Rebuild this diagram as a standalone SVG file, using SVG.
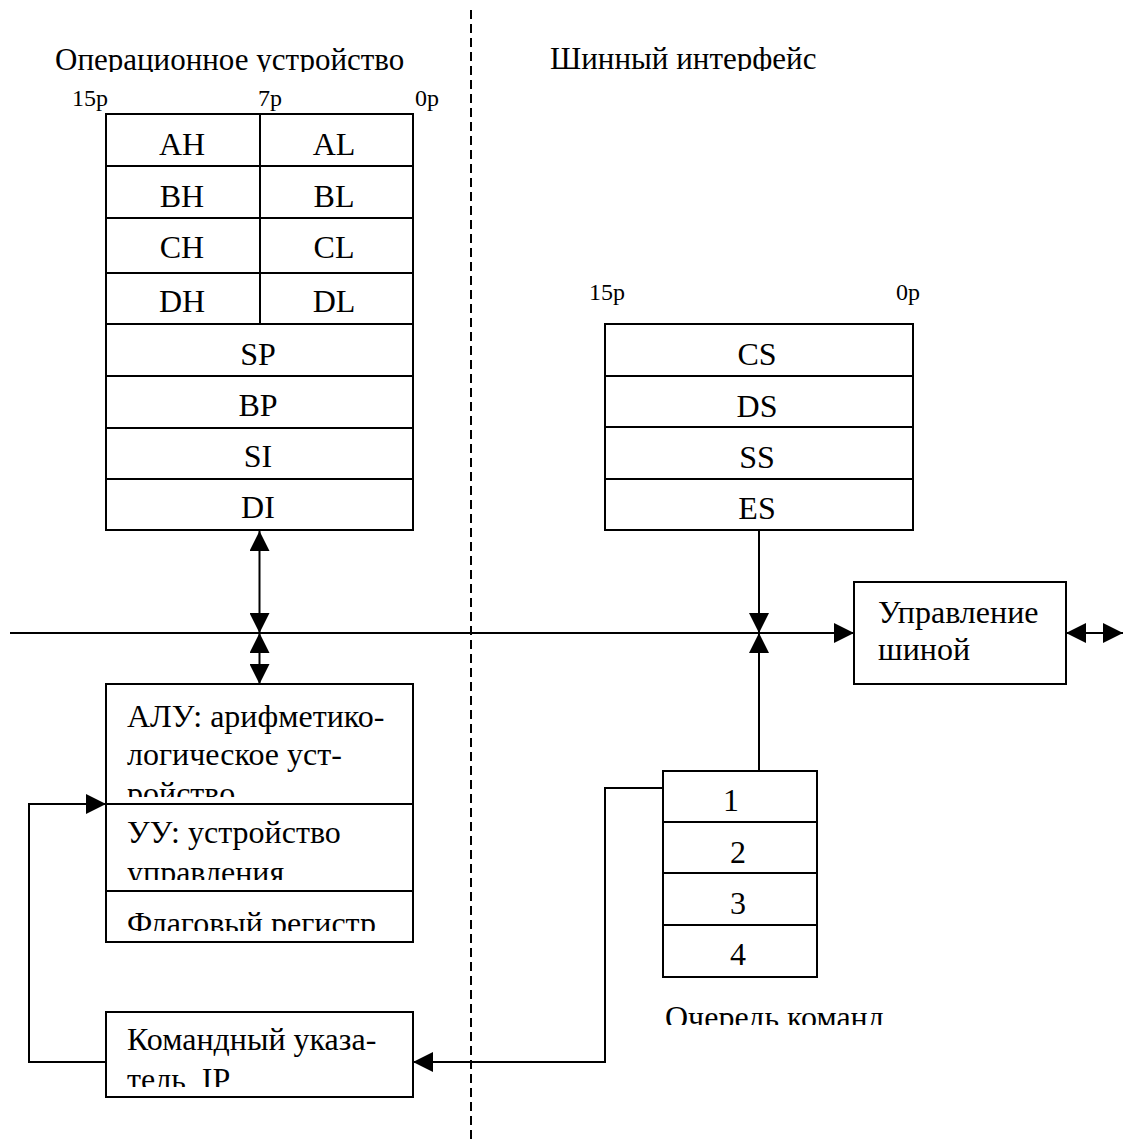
<svg xmlns="http://www.w3.org/2000/svg" width="1125" height="1142" viewBox="0 0 1125 1142">
<style>
text{font-family:"Liberation Serif","Times New Roman",serif;font-size:32px;fill:#000}
.sm{font-size:24px}
.tt{font-size:31px}
.c{text-anchor:middle}
.box{fill:#fff;stroke:#000;stroke-width:2}
.ln{fill:none;stroke:#000;stroke-width:2}
.dash{fill:none;stroke:#000;stroke-width:2;stroke-dasharray:9 5}
</style>
<defs>
<marker id="ah" markerUnits="userSpaceOnUse" markerWidth="20" markerHeight="20" refX="20" refY="10" orient="auto-start-reverse"><path d="M0,0 L20,10 L0,20 z" fill="#000"/></marker>
<clipPath id="cl1"><rect x="0" y="0" width="470" height="72"/></clipPath>
<clipPath id="cl2"><rect x="480" y="0" width="640" height="71"/></clipPath>
<clipPath id="clAlu"><rect x="106" y="685" width="307" height="112"/></clipPath>
<clipPath id="clUu"><rect x="106" y="805" width="307" height="75"/></clipPath>
<clipPath id="clFl"><rect x="106" y="892" width="307" height="39"/></clipPath>
<clipPath id="clIp"><rect x="106" y="1013" width="307" height="74"/></clipPath>
<clipPath id="clQ"><rect x="600" y="990" width="400" height="35"/></clipPath>
</defs>

<line class="dash" x1="471" y1="10" x2="471" y2="1142"/>

<g id="title-left"><text class="tt" x="55" y="70" clip-path="url(#cl1)">Операционное устройство</text></g>
<g id="title-right"><text class="tt" x="550" y="69" clip-path="url(#cl2)">Шинный интерфейс</text></g>

<g id="gp-regs">
<text class="sm" x="72" y="106">15p</text>
<text class="sm" x="258" y="106">7p</text>
<text class="sm" x="415" y="106">0p</text>
<rect class="box" x="106" y="114" width="307" height="416"/>
<line class="ln" x1="106" y1="166" x2="413" y2="166"/>
<line class="ln" x1="106" y1="218" x2="413" y2="218"/>
<line class="ln" x1="106" y1="273" x2="413" y2="273"/>
<line class="ln" x1="106" y1="324" x2="413" y2="324"/>
<line class="ln" x1="106" y1="376" x2="413" y2="376"/>
<line class="ln" x1="106" y1="428" x2="413" y2="428"/>
<line class="ln" x1="106" y1="479" x2="413" y2="479"/>
<line class="ln" x1="260" y1="114" x2="260" y2="324"/>
<text class="c" x="182" y="155">AH</text><text class="c" x="334" y="155">AL</text>
<text class="c" x="182" y="207">BH</text><text class="c" x="334" y="207">BL</text>
<text class="c" x="182" y="258">CH</text><text class="c" x="334" y="258">CL</text>
<text class="c" x="182" y="312">DH</text><text class="c" x="334" y="312">DL</text>
<text class="c" x="258" y="365">SP</text>
<text class="c" x="258" y="416">BP</text>
<text class="c" x="258" y="467">SI</text>
<text class="c" x="258" y="518">DI</text>
</g>

<g id="seg-regs">
<text class="sm" x="589" y="300">15p</text>
<text class="sm" x="896" y="300">0p</text>
<rect class="box" x="605" y="324" width="308" height="206"/>
<line class="ln" x1="605" y1="376" x2="913" y2="376"/>
<line class="ln" x1="605" y1="427" x2="913" y2="427"/>
<line class="ln" x1="605" y1="479" x2="913" y2="479"/>
<text class="c" x="757" y="365">CS</text>
<text class="c" x="757" y="417">DS</text>
<text class="c" x="757" y="468">SS</text>
<text class="c" x="757" y="519">ES</text>
</g>

<g id="bus-ctrl">
<rect class="box" x="854" y="582" width="212" height="102"/>
<text x="878" y="623">Управление</text>
<text x="878" y="660">шиной</text>
</g>

<g id="alu">
<rect class="box" x="106" y="684" width="307" height="258"/>
<line class="ln" x1="106" y1="804" x2="413" y2="804"/>
<line class="ln" x1="106" y1="891" x2="413" y2="891"/>
<g clip-path="url(#clAlu)">
<text x="127" y="727">АЛУ: арифметико-</text>
<text x="127" y="765">логическое уст-</text>
<text x="127" y="804">ройство</text>
</g>
<g clip-path="url(#clUu)">
<text x="127" y="843">УУ: устройство</text>
<text x="127" y="883">управления</text>
</g>
<text x="127" y="934" clip-path="url(#clFl)">Флаговый регистр</text>
</g>

<g id="ip">
<rect class="box" x="106" y="1012" width="307" height="85"/>
<g clip-path="url(#clIp)">
<text x="127" y="1050">Командный указа-</text>
<text x="127" y="1090" xml:space="preserve">тель  IP</text>
</g>
</g>

<g id="queue">
<rect class="box" x="663" y="771" width="154" height="206"/>
<line class="ln" x1="663" y1="822" x2="817" y2="822"/>
<line class="ln" x1="663" y1="873" x2="817" y2="873"/>
<line class="ln" x1="663" y1="925" x2="817" y2="925"/>
<text class="c" x="731" y="811">1</text>
<text class="c" x="738" y="863">2</text>
<text class="c" x="738" y="914">3</text>
<text class="c" x="738" y="965">4</text>
<text x="665" y="1028" clip-path="url(#clQ)">Очередь команд</text>
</g>

<g id="connectors">
<line class="ln" x1="10" y1="633" x2="854" y2="633" marker-end="url(#ah)"/>
<line class="ln" x1="259.5" y1="531" x2="259.5" y2="633" marker-start="url(#ah)" marker-end="url(#ah)"/>
<line class="ln" x1="259.5" y1="633" x2="259.5" y2="684" marker-start="url(#ah)" marker-end="url(#ah)"/>
<line class="ln" x1="759" y1="530" x2="759" y2="633" marker-end="url(#ah)"/>
<line class="ln" x1="759" y1="771" x2="759" y2="633" marker-end="url(#ah)"/>
<line class="ln" x1="1066" y1="633" x2="1123" y2="633" marker-start="url(#ah)" marker-end="url(#ah)"/>
<polyline class="ln" points="663,788 605,788 605,1062 413,1062" marker-end="url(#ah)"/>
<polyline class="ln" points="106,1062 29,1062 29,804 106,804" marker-end="url(#ah)"/>
</g>
</svg>
